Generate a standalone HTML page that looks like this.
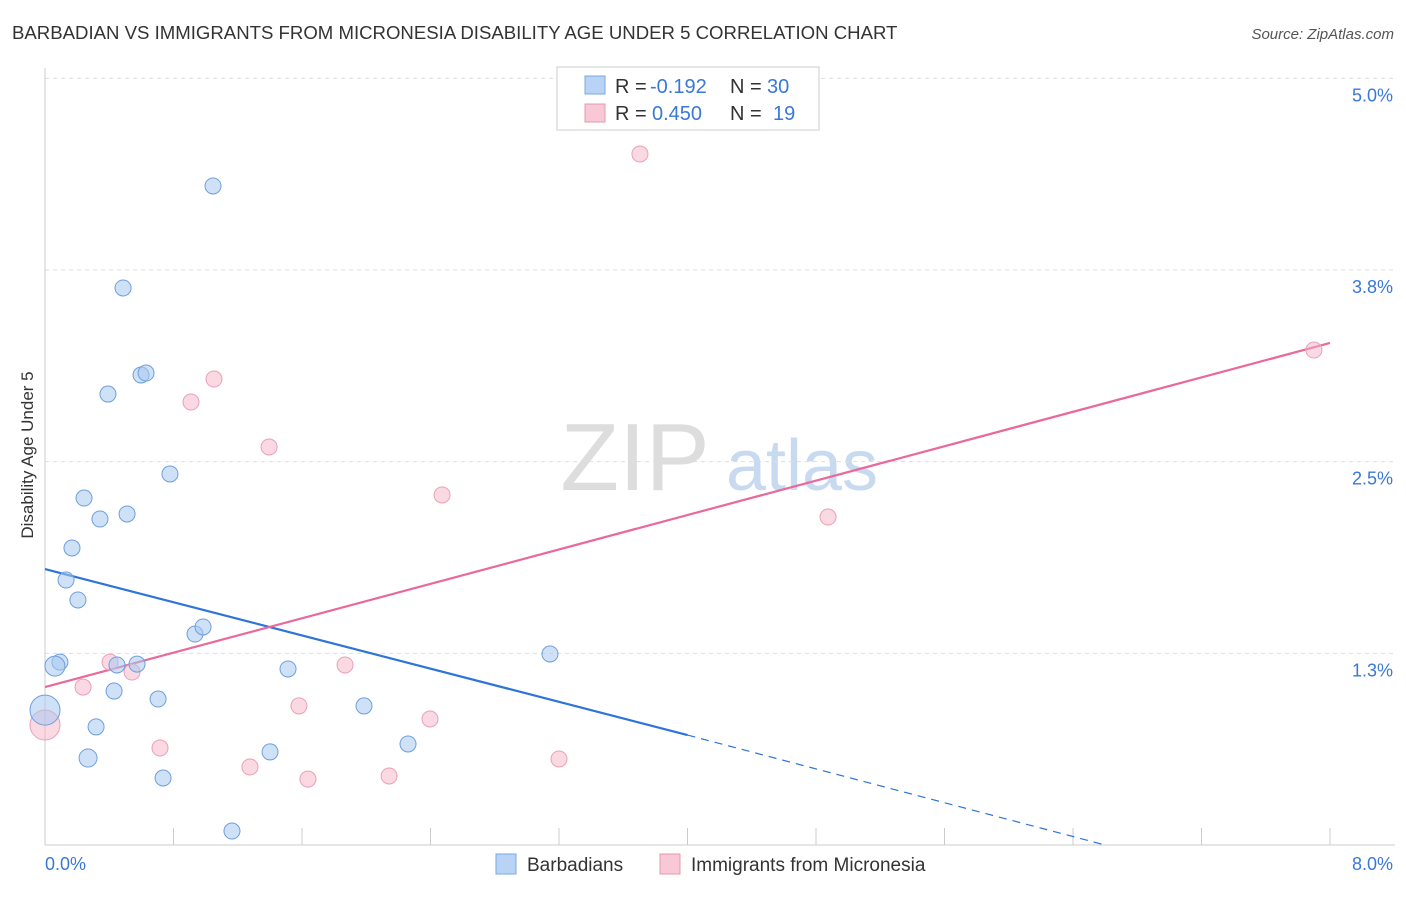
<!DOCTYPE html>
<html><head><meta charset="utf-8">
<style>
body{margin:0;background:#fff;font-family:"Liberation Sans",sans-serif;}
svg text{font-family:"Liberation Sans",sans-serif;}
</style></head>
<body>
<svg id="chart" width="1406" height="892" xmlns="http://www.w3.org/2000/svg">
<text x="12" y="39" font-size="18.6" fill="#333">BARBADIAN VS IMMIGRANTS FROM MICRONESIA DISABILITY AGE UNDER 5 CORRELATION CHART</text>
<text x="1394" y="39" font-size="15" fill="#555" text-anchor="end" font-style="italic">Source: ZipAtlas.com</text>
<text transform="translate(33,455) rotate(-90)" font-size="17" fill="#333" text-anchor="middle">Disability Age Under 5</text>
<g>
<text x="635" y="490" font-size="96" fill="#ddd" text-anchor="middle" font-family="Liberation Serif,serif">ZIP</text>
<text x="802" y="490" font-size="72" fill="#c8daf0" text-anchor="middle">atlas</text>
</g>
<g id="grid"></g>
<g id="axes"></g>
<g id="lines"></g>
<g id="points"></g>
<g>
<rect x="557" y="67" width="262" height="63" fill="#fff" stroke="#ccc"/>
<rect x="585" y="76" width="20" height="18" fill="#b8d3f5" stroke="#7aa8e0"/>
<text x="615" y="93" font-size="20" fill="#333">R =</text>
<text x="650" y="93" font-size="20" fill="#3a78d8">-0.192</text>
<text x="730" y="93" font-size="20" fill="#333">N =</text>
<text x="767" y="93" font-size="20" fill="#3a78d8">30</text>
<rect x="585" y="104" width="20" height="18" fill="#f8c8d6" stroke="#e898b0"/>
<text x="615" y="120" font-size="20" fill="#333">R =</text>
<text x="652" y="120" font-size="20" fill="#3a78d8">0.450</text>
<text x="730" y="120" font-size="20" fill="#333">N =</text>
<text x="773" y="120" font-size="20" fill="#3a78d8">19</text>
</g>
<g>
<rect x="496" y="854" width="20" height="20" fill="#b8d3f5" stroke="#7aa8e0"/>
<text x="527" y="871" font-size="19" fill="#333">Barbadians</text>
<rect x="660" y="854" width="20" height="20" fill="#f8c8d6" stroke="#e898b0"/>
<text x="691" y="871" font-size="19" fill="#333">Immigrants from Micronesia</text>
</g>
</svg>
<script>
const blueX=[1.046,0.486,0.392,0.598,0.629,0.778,0.243,0.511,0.342,0.168,0.131,0.205,0.934,0.984,0.093,0.062,0.448,0.573,0.430,0.704,1.513,3.144,1.986,0.318,0.0,0.268,1.401,2.260,0.735,1.164];
const blueY=[4.298,3.633,2.941,3.065,3.078,2.420,2.263,2.159,2.126,1.937,1.728,1.598,1.376,1.422,1.193,1.167,1.174,1.180,1.004,0.952,1.148,1.246,0.907,0.770,0.880,0.567,0.607,0.659,0.437,0.091];
const blueSize=[8,8,8,8,8,8,8,8,8,8,8,8,8,8,8,10,8,8,8,8,8,8,8,8,15,9,8,8,8,8];
const pinkX=[3.704,7.900,1.052,0.909,1.395,2.472,4.875,0.405,0.542,1.868,0.237,1.581,2.397,0.0,0.716,1.276,1.637,2.142,3.200];
const pinkY=[4.507,3.228,3.039,2.889,2.596,2.283,2.139,1.193,1.128,1.174,1.030,0.907,0.822,0.783,0.633,0.509,0.430,0.450,0.561];
const pinkSize=[8,8,8,8,8,8,8,8,8,8,8,8,8,15,8,8,8,8,8];
const blueLine=[[0,1.800],[4.0,0.717]];
const blueDash=[[4.0,0.717],[6.6,0.0]];
const pinkLine=[[0,1.030],[8.0,3.274]];
const yTicks=[1.25,2.5,3.75,5.0];
const yTickLabels=["1.3%","2.5%","3.8%","5.0%"];
const xTicks=[0,0.8,1.6,2.4,3.2,4.0,4.8,5.6,6.4,7.2,8.0];

const X=v=>45+v*160.625;
const Y=v=>845-v*153.33;
const NS="http://www.w3.org/2000/svg";
function mk(parent,tag,attrs){const e=document.createElementNS(NS,tag);for(const k in attrs)e.setAttribute(k,attrs[k]);document.getElementById(parent).appendChild(e);return e;}

yTicks.forEach((t,i)=>{
  const g=mk('grid','line',{x1:45,x2:1395,y1:Y(t),y2:Y(t),stroke:'#ddd','stroke-dasharray':'4,4'});
  
  
  const l=mk('grid','text',{x:1393,y:Y(t)+23,'font-size':18,fill:'#3a78d8','text-anchor':'end'});
  l.textContent=yTickLabels[i];
  
  
});
const ax=mk('axes','line',{x1:45,x2:1395,y1:845,y2:845,stroke:'#ccc'});


const ay=mk('axes','line',{x1:45,x2:45,y1:68,y2:845,stroke:'#ccc'});


xTicks.forEach(t=>{
  const e=mk('axes','line',{x1:X(t),x2:X(t),y1:828,y2:845,stroke:'#ccc'});
  
  
});
const x0=mk('axes','text',{x:45,y:870,'font-size':18,fill:'#3a78d8'});x0.textContent='0.0%';


const x1=mk('axes','text',{x:1393,y:870,'font-size':18,fill:'#3a78d8','text-anchor':'end'});x1.textContent='8.0%';



function ln(pts,color,dash,name){
  const e=mk('lines','line',{x1:X(pts[0][0]),y1:Y(pts[0][1]),x2:X(pts[1][0]),y2:Y(pts[1][1]),stroke:color,'stroke-width':dash?1.2:2.2});
  if(dash)e.setAttribute('stroke-dasharray','8,6');
  
  
}
ln(blueLine,'#2f74d6',false,'barbadians-trend-line');
ln(blueDash,'#2f74d6',true,'barbadians-trend-extension');
ln(pinkLine,'#e8699a',false,'micronesia-trend-line');

pinkX.forEach((v,i)=>{
  const c=mk('points','circle',{cx:X(v),cy:Y(pinkY[i]),r:pinkSize[i],fill:'rgba(246,180,200,0.5)',stroke:'#eaa0b8','stroke-width':1});
  
  
});
blueX.forEach((v,i)=>{
  const c=mk('points','circle',{cx:X(v),cy:Y(blueY[i]),r:blueSize[i],fill:'rgba(168,200,240,0.55)',stroke:'#6e9fdc','stroke-width':1});
  
  
});
</script>
</body></html>
